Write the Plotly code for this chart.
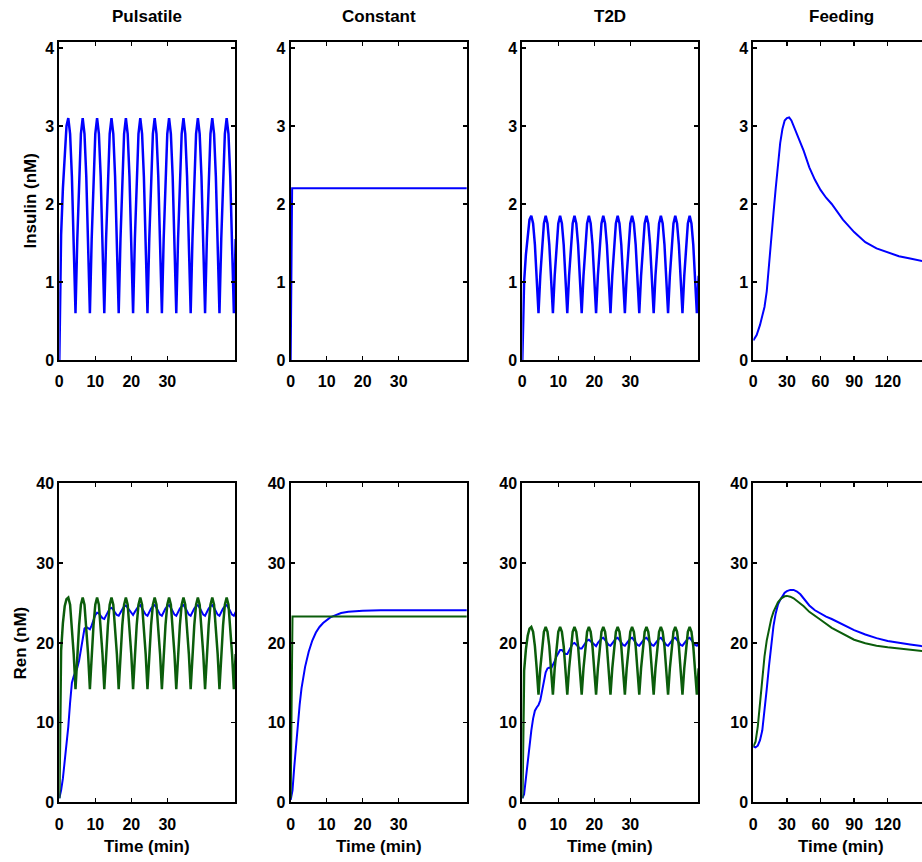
import numpy as np
import plotly.graph_objects as go

# ---------------- data ----------------
PANEL_TITLES = ["Pulsatile", "Constant", "T2D", "Feeding"]
X_TICKS_SHORT = [0, 10, 20, 30]
X_TICKS_FEED = [0, 30, 60, 90, 120]
Y_TICKS_INS = [0, 1, 2, 3, 4]
Y_TICKS_REN = [0, 10, 20, 30, 40]

# uniform 0.5-min time base for the pulsed simulations (0 .. 49 min)
t_pulse = np.arange(0, 49.01, 0.5)

pulsatile_insulin = [
    0.0,
    1.6, 2.2, 2.7, 3.0, 3.1, 2.9, 2.35, 1.55, 0.6,
    1.55, 2.35, 2.9, 3.1, 2.9, 2.35, 1.55, 0.6,
    1.55, 2.35, 2.9, 3.1, 2.9, 2.35, 1.55, 0.6,
    1.55, 2.35, 2.9, 3.1, 2.9, 2.35, 1.55, 0.6,
    1.55, 2.35, 2.9, 3.1, 2.9, 2.35, 1.55, 0.6,
    1.55, 2.35, 2.9, 3.1, 2.9, 2.35, 1.55, 0.6,
    1.55, 2.35, 2.9, 3.1, 2.9, 2.35, 1.55, 0.6,
    1.55, 2.35, 2.9, 3.1, 2.9, 2.35, 1.55, 0.6,
    1.55, 2.35, 2.9, 3.1, 2.9, 2.35, 1.55, 0.6,
    1.55, 2.35, 2.9, 3.1, 2.9, 2.35, 1.55, 0.6,
    1.55, 2.35, 2.9, 3.1, 2.9, 2.35, 1.55, 0.6,
    1.55, 2.35, 2.9, 3.1, 2.9, 2.35, 1.55, 0.6,
    1.55,
]

t2d_insulin = [
    0.0,
    1.0, 1.35, 1.6, 1.8, 1.85, 1.75, 1.48, 1.08, 0.6,
    1.08, 1.48, 1.75, 1.85, 1.75, 1.48, 1.08, 0.6,
    1.08, 1.48, 1.75, 1.85, 1.75, 1.48, 1.08, 0.6,
    1.08, 1.48, 1.75, 1.85, 1.75, 1.48, 1.08, 0.6,
    1.08, 1.48, 1.75, 1.85, 1.75, 1.48, 1.08, 0.6,
    1.08, 1.48, 1.75, 1.85, 1.75, 1.48, 1.08, 0.6,
    1.08, 1.48, 1.75, 1.85, 1.75, 1.48, 1.08, 0.6,
    1.08, 1.48, 1.75, 1.85, 1.75, 1.48, 1.08, 0.6,
    1.08, 1.48, 1.75, 1.85, 1.75, 1.48, 1.08, 0.6,
    1.08, 1.48, 1.75, 1.85, 1.75, 1.48, 1.08, 0.6,
    1.08, 1.48, 1.75, 1.85, 1.75, 1.48, 1.08, 0.6,
    1.08, 1.48, 1.75, 1.85, 1.75, 1.48, 1.08, 0.6,
    1.08,
]

pulsatile_ren_green = [
    0.5,
    19.0, 22.5, 24.6, 25.5, 25.7, 24.8, 22.2, 18.6, 14.2,
    18.6, 22.2, 24.8, 25.7, 24.8, 22.2, 18.6, 14.2,
    18.6, 22.2, 24.8, 25.7, 24.8, 22.2, 18.6, 14.2,
    18.6, 22.2, 24.8, 25.7, 24.8, 22.2, 18.6, 14.2,
    18.6, 22.2, 24.8, 25.7, 24.8, 22.2, 18.6, 14.2,
    18.6, 22.2, 24.8, 25.7, 24.8, 22.2, 18.6, 14.2,
    18.6, 22.2, 24.8, 25.7, 24.8, 22.2, 18.6, 14.2,
    18.6, 22.2, 24.8, 25.7, 24.8, 22.2, 18.6, 14.2,
    18.6, 22.2, 24.8, 25.7, 24.8, 22.2, 18.6, 14.2,
    18.6, 22.2, 24.8, 25.7, 24.8, 22.2, 18.6, 14.2,
    18.6, 22.2, 24.8, 25.7, 24.8, 22.2, 18.6, 14.2,
    18.6, 22.2, 24.8, 25.7, 24.8, 22.2, 18.6, 14.2,
    18.6,
]

pulsatile_ren_blue = [
    0.5, 1.5, 3.0, 5.0, 7.2, 9.5, 12.5, 15.0, 15.8, 16.3,
    16.9, 17.8, 19.3, 20.8, 21.8, 22.0, 21.8, 21.7, 22.2, 22.9,
    23.5, 23.8, 23.7, 23.4, 23.1, 23.0, 23.4, 23.9, 24.3, 24.4,
    24.2, 23.8, 23.5, 23.4, 23.8, 24.3, 24.6, 24.7, 24.4, 24.0,
    23.7, 23.5,
    23.9, 24.3, 24.6, 24.75, 24.4, 23.9, 23.55, 23.4,
    23.9, 24.3, 24.6, 24.75, 24.4, 23.9, 23.55, 23.4,
    23.9, 24.3, 24.6, 24.75, 24.4, 23.9, 23.55, 23.4,
    23.9, 24.3, 24.6, 24.75, 24.4, 23.9, 23.55, 23.4,
    23.9, 24.3, 24.6, 24.75, 24.4, 23.9, 23.55, 23.4,
    23.9, 24.3, 24.6, 24.75, 24.4, 23.9, 23.55, 23.4,
    23.9, 24.3, 24.6, 24.75, 24.4, 23.9, 23.55, 23.4,
    23.9,
]

t2d_ren_green = [
    0.5,
    16.5, 19.2, 20.9, 21.8, 22.0, 21.4, 19.6, 16.8, 13.5,
    16.8, 19.6, 21.4, 22.0, 21.4, 19.6, 16.8, 13.5,
    16.8, 19.6, 21.4, 22.0, 21.4, 19.6, 16.8, 13.5,
    16.8, 19.6, 21.4, 22.0, 21.4, 19.6, 16.8, 13.5,
    16.8, 19.6, 21.4, 22.0, 21.4, 19.6, 16.8, 13.5,
    16.8, 19.6, 21.4, 22.0, 21.4, 19.6, 16.8, 13.5,
    16.8, 19.6, 21.4, 22.0, 21.4, 19.6, 16.8, 13.5,
    16.8, 19.6, 21.4, 22.0, 21.4, 19.6, 16.8, 13.5,
    16.8, 19.6, 21.4, 22.0, 21.4, 19.6, 16.8, 13.5,
    16.8, 19.6, 21.4, 22.0, 21.4, 19.6, 16.8, 13.5,
    16.8, 19.6, 21.4, 22.0, 21.4, 19.6, 16.8, 13.5,
    16.8, 19.6, 21.4, 22.0, 21.4, 19.6, 16.8, 13.5,
    16.8,
]

t2d_ren_blue = [
    0.5, 1.0, 3.0, 5.3, 7.3, 9.0, 10.5, 11.5, 11.9, 12.2,
    12.8, 14.0, 15.3, 16.3, 16.8, 16.9, 16.8, 17.2, 17.7, 18.3,
    18.8, 19.1, 19.1, 18.9, 18.6, 18.6, 19.0, 19.5, 19.9, 20.0,
    19.8, 19.5, 19.3, 19.3, 19.6, 20.0, 20.3, 20.4, 20.2, 19.9,
    19.7, 19.6,
    20.0, 20.35, 20.55, 20.65, 20.35, 20.0, 19.75, 19.65,
    20.0, 20.35, 20.55, 20.65, 20.35, 20.0, 19.75, 19.65,
    20.0, 20.35, 20.55, 20.65, 20.35, 20.0, 19.75, 19.65,
    20.0, 20.35, 20.55, 20.65, 20.35, 20.0, 19.75, 19.65,
    20.0, 20.35, 20.55, 20.65, 20.35, 20.0, 19.75, 19.65,
    20.0, 20.35, 20.55, 20.65, 20.35, 20.0, 19.75, 19.65,
    20.0, 20.35, 20.55, 20.65, 20.35, 20.0, 19.75, 19.65,
    20.0,
]

# constant infusion
t_const_ins = [0, 0.1, 0.4, 49]
constant_insulin = [0.0, 1.1, 2.2, 2.2]
t_const_green = [0, 0.5, 49]
constant_ren_green = [0.5, 23.3, 23.3]
t_const_blue = [0, 0.5, 1, 1.5, 2, 2.5, 3, 4, 5, 6, 7, 8, 9, 10, 11, 12,
                13, 14, 16, 18, 20, 25, 49]
constant_ren_blue = [0.3, 1.5, 4.5, 7.3, 10.0, 12.3, 14.3, 17.0, 18.9, 20.3,
                     21.3, 22.0, 22.5, 22.9, 23.2, 23.4, 23.6, 23.75, 23.9,
                     24.0, 24.05, 24.1, 24.1]

# feeding
t_feed_ins = [0, 3, 6, 8, 10, 12, 14, 16, 18, 20, 22, 24, 26, 28, 30, 32, 34,
              36, 40, 45, 50, 55, 60, 65, 70, 80, 90, 100, 110, 120, 130, 140,
              150, 157]
feeding_insulin = [0.25, 0.32, 0.45, 0.56, 0.68, 0.88, 1.18, 1.55, 1.88, 2.2,
                   2.52, 2.78, 2.96, 3.07, 3.1, 3.11, 3.07, 3.0, 2.86, 2.68,
                   2.47, 2.31, 2.18, 2.08, 2.0, 1.8, 1.64, 1.51, 1.43, 1.38,
                   1.33, 1.3, 1.27, 1.25]
t_feed_blue = [0, 2, 4, 6, 8, 10, 12, 14, 16, 18, 20, 22, 24, 26, 28, 30, 33,
               36, 39, 42, 45, 50, 55, 60, 65, 70, 80, 90, 100, 110, 120, 130,
               140, 150, 157]
feeding_ren_blue = [7.0, 6.9, 7.1, 7.8, 9.0, 11.4, 14.2, 17.1, 19.8, 22.1,
                    23.7, 24.8, 25.4, 25.9, 26.3, 26.5, 26.65, 26.65, 26.45,
                    26.1, 25.6, 24.7, 24.1, 23.65, 23.3, 23.0, 22.3, 21.6,
                    21.05, 20.6, 20.25, 20.0, 19.8, 19.6, 19.5]
t_feed_green = [0, 2, 4, 6, 8, 10, 12, 14, 16, 18, 20, 22, 25, 28, 30, 33, 36,
                40, 45, 50, 55, 60, 70, 80, 90, 100, 110, 120, 130, 140, 150,
                157]
feeding_ren_green = [7.0, 7.6, 9.5, 12.5, 15.6, 18.3, 20.3, 21.9, 23.0, 23.9,
                     24.6, 25.1, 25.6, 25.85, 25.9, 25.8, 25.6, 25.2, 24.6,
                     23.9, 23.35, 22.9, 21.9, 21.1, 20.4, 19.95, 19.65, 19.45,
                     19.3, 19.15, 19.0, 18.9]

# ---------------- styling / layout ----------------
W, H = 922, 862
BLUE = "#0000ff"
GREEN = "#0b5d0b"
FONT = "Liberation Sans, Arial, Helvetica, sans-serif"

panel_left = [59.3, 290.7, 522.3, 753.3]
panel_w = 176.0
top_y = (41.7, 360.0)
bot_y = (483.3, 802.3)

def xdom(i):
    return [panel_left[i] / W, min(1.0, (panel_left[i] + panel_w) / W)]

def ydom(py):
    return [(H - py[1]) / H, (H - py[0]) / H]

fig = go.Figure()

def add(ax, x, y, color, width=2):
    fig.add_trace(go.Scatter(x=x, y=y, mode="lines",
                             line=dict(color=color, width=width),
                             xaxis="x" + ("" if ax == 1 else str(ax)),
                             yaxis="y" + ("" if ax == 1 else str(ax)),
                             showlegend=False, hoverinfo="skip"))

add(1, t_pulse, pulsatile_insulin, BLUE, 2.5)
add(2, t_const_ins, constant_insulin, BLUE)
add(3, t_pulse, t2d_insulin, BLUE, 2.5)
add(4, t_feed_ins, feeding_insulin, BLUE)
add(5, t_pulse, pulsatile_ren_blue, BLUE)
add(5, t_pulse, pulsatile_ren_green, GREEN, 2.5)
add(6, t_const_blue, constant_ren_blue, BLUE)
add(6, t_const_green, constant_ren_green, GREEN)
add(7, t_pulse, t2d_ren_blue, BLUE)
add(7, t_pulse, t2d_ren_green, GREEN, 2.5)
add(8, t_feed_blue, feeding_ren_blue, BLUE)
add(8, t_feed_green, feeding_ren_green, GREEN)

tickfont = dict(family=FONT, size=16, color="black", weight="bold")
common = dict(showline=True, linecolor="black", linewidth=2,
              ticks="inside", ticklen=4, tickwidth=1.5, tickcolor="black",
              showgrid=False, zeroline=False, tickfont=tickfont)

layout = dict(width=W, height=H,
              margin=dict(l=0, r=0, t=0, b=0, pad=0, autoexpand=False),
              paper_bgcolor="white", plot_bgcolor="white", showlegend=False)

for i in range(4):
    for row in range(2):
        ax = i + 1 + 4 * row
        sfx = "" if ax == 1 else str(ax)
        if i < 3:
            xr = [0, 48.9]
            xt = X_TICKS_SHORT
        else:
            xr = [0, 150.6]
            xt = X_TICKS_FEED
        layout["xaxis" + sfx] = dict(common, domain=xdom(i), range=xr,
                                     tickvals=xt, mirror="ticks",
                                     anchor="y" + sfx, ticklabelstandoff=6)
        if row == 0:
            yr, yt, yd = [0, 4.08], Y_TICKS_INS, ydom(top_y)
        else:
            yr, yt, yd = [0, 40.03], Y_TICKS_REN, ydom(bot_y)
        layout["yaxis" + sfx] = dict(common, domain=yd, range=yr,
                                     tickvals=yt,
                                     mirror=("ticks" if i < 3 else False),
                                     anchor="x" + sfx)

fig.update_layout(**layout)

lab = dict(family=FONT, size=17, color="black", weight="bold")
for i, title in enumerate(PANEL_TITLES):
    cx = (panel_left[i] + panel_w / 2) / W
    fig.add_annotation(text=title, x=cx, y=(H - 17) / H, xref="paper",
                       yref="paper", showarrow=False, font=lab,
                       xanchor="center", yanchor="middle")
    fig.add_annotation(text="Time (min)", x=cx, y=(H - 846) / H,
                       xref="paper", yref="paper", showarrow=False, font=lab,
                       xanchor="center", yanchor="middle")

fig.add_annotation(text="Insulin (nM)", x=29.5 / W, y=(H - 201) / H,
                   xref="paper", yref="paper", showarrow=False, font=lab,
                   textangle=-90, xanchor="center", yanchor="middle")
fig.add_annotation(text="Ren (nM)", x=19.5 / W, y=(H - 643) / H,
                   xref="paper", yref="paper", showarrow=False, font=lab,
                   textangle=-90, xanchor="center", yanchor="middle")

fig.write_html(
    "out.html",
    config={"displayModeBar": False, "staticPlot": True},
    post_script="document.body.style.margin='0';"
                "document.body.style.overflow='hidden';",
)
